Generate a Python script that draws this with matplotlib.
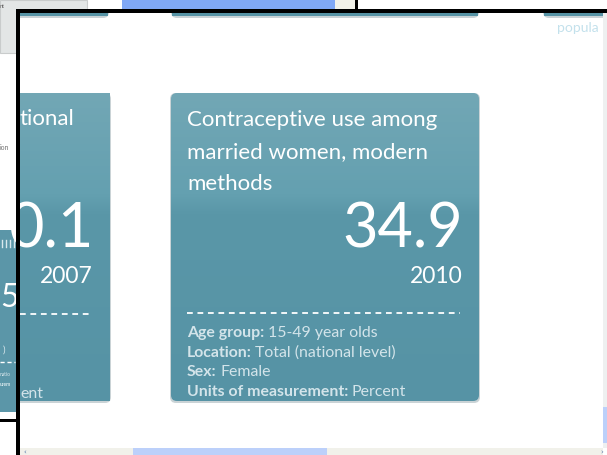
import numpy as np
import matplotlib.pyplot as plt
from matplotlib.patches import FancyBboxPatch, Rectangle
from matplotlib.colors import to_rgb

# card content
left_title = "tional"
left_value = "0.1"
left_year = "2007"
left_tail = "ent"

main_title = ["Contraceptive use among", "married women, modern", "methods"]
main_value = "34.9"
main_year = "2010"
detail_labels = ["Age group:", "Location:", "Sex:", "Units of measurement:"]
detail_values = ["15-49 year olds", "Total (national level)", "Female", "Percent"]

W, H = 607, 455
fig = plt.figure(figsize=(W / 100, H / 100), dpi=100)
ax = fig.add_axes([0, 0, 1, 1])
ax.set_xlim(0, W)
ax.set_ylim(H, 0)
ax.axis("off")
FONT = "Lato"

frame_clip = Rectangle((20, 13), 583, 435, transform=ax.transData)
outer_clip = Rectangle((0, 0), 16, H, transform=ax.transData)


def gradient(stops, n=300):
    # stops: list of (pos, color)
    pos = np.linspace(0, 1, n)
    out = np.zeros((n, 1, 3))
    ps = [p for p, c in stops]
    cs = np.array([to_rgb(c) for p, c in stops])
    for k in range(3):
        out[:, 0, k] = np.interp(pos, ps, cs[:, k])
    return out


CARD = [(0, "#72a7b5"), (0.33, "#64a0b0"), (0.39, "#5a97a8"), (1, "#5693a5")]


def card(x0, y0, x1, y1, clip=None, r=6):
    sh = FancyBboxPatch((x0 - 1, y0), x1 - x0 + 2, y1 - y0 + 2,
                        boxstyle="round,pad=0,rounding_size=%d" % r,
                        fc="#8a9ea4", ec="none", alpha=0.45, zorder=1)
    ax.add_patch(sh)
    box = FancyBboxPatch((x0, y0), x1 - x0, y1 - y0,
                         boxstyle="round,pad=0,rounding_size=%d" % r,
                         fc="none", ec="none", zorder=2)
    ax.add_patch(box)
    im = ax.imshow(gradient(CARD), extent=(x0, x1, y1, y0), origin="upper",
                   aspect="auto", zorder=2, interpolation="bilinear")
    im.set_clip_path(box)
    if clip is not None:
        sh.set_clip_path(clip)
        box.set_clip_path(clip)
    return im


def small(x, y, s, size, color="#d9e8ed", **kw):
    t = ax.text(x, y, s, fontsize=size, color=color, va="center", family=FONT, **kw)
    t.set_clip_path(outer_clip)
    return t


# background outside the frame
ax.add_patch(Rectangle((0, 0), W, H, fc="white", ec="none", zorder=0))
ax.add_patch(Rectangle((0, 0), 87, 53, fc="#e3e6e6", ec="#c9cccc", lw=0.8, zorder=0.5))
small(0, 6, "nt", 4, color="#666666")
ax.add_patch(Rectangle((122, 0), 213, 9, fc="#80a8f6", ec="none", zorder=0.5))
ax.add_patch(Rectangle((335, 0), 20, 9, fc="#f1f1e9", ec="none", zorder=0.5))
ax.add_patch(Rectangle((355, 0), 3, 9, fc="black", ec="none", zorder=0.5))
small(0, 147, "ion", 5, color="#777777")
ax.add_patch(Rectangle((0, 230), 16, 182, fc="#5b96a8", ec="none", zorder=0.5))
for gx in (2, 6, 10, 14):
    ax.plot([gx, gx], [240, 247], color="#d9e8ed", lw=1, zorder=3)
small(0, 298, "5", 23, color="white")
small(3, 350, ")", 7)
dl, = ax.plot([0, 15], [362, 362], color="white", lw=1, ls=(0, (3, 2)), zorder=3)
dl.set_clip_path(outer_clip)
small(0, 374, "natio", 3.5)
small(0, 384, "urem", 3.5, weight="bold")
ax.add_patch(Rectangle((0, 419), 16, 3, fc="black", ec="none", zorder=0.5))

# frame interior
inner = Rectangle((20, 13), 583, 435, fc="white", ec="none", zorder=0.8)
ax.add_patch(inner)

# bottoms of the cards in the row above
for a, b in [(-30, 108), (172, 478), (544, 640)]:
    card(a, -120, b, 16, clip=frame_clip).set_clip_path(frame_clip)

ax.text(557, 28, "popula", fontsize=10, color="#c3e1ec", va="center", family=FONT,
        clip_path=frame_clip)

# left card (cut by frame)
card(-200, 93, 110, 401, clip=frame_clip).set_clip_path(frame_clip)
t = ax.text(20, 125, left_title, fontsize=16, color="white", family=FONT, zorder=4)
t.set_clip_path(frame_clip)
t = ax.text(93, 248, left_value, fontsize=44, color="white", ha="right", family=FONT, zorder=4)
t.set_clip_path(frame_clip)
ax.text(93, 283, left_year, fontsize=16.5, color="white", ha="right", family=FONT, zorder=4)
ln, = ax.plot([-10, 90], [314, 314], color="white", lw=1.3, ls=(0, (3.2, 2.6)), zorder=3)
ln.set_clip_path(frame_clip)
t = ax.text(20, 398, left_tail, fontsize=11.4, color="#d3e4ea", family=FONT, zorder=4)
t.set_clip_path(frame_clip)

# main card
card(171, 93, 479, 401)
for i, line in enumerate(main_title):
    ax.text(187, 126 + 32 * i, line, fontsize=16, color="white", family=FONT, zorder=4)
ax.text(463, 247, main_value, fontsize=44, color="white", ha="right", family=FONT, zorder=4)
ax.text(463, 283, main_year, fontsize=16.5, color="white", ha="right", family=FONT, zorder=4)
ax.plot([187, 460], [313, 313], color="white", lw=1.3, ls=(0, (3.2, 2.6)), zorder=4)

fig.canvas.draw()
rend = fig.canvas.get_renderer()
inv = ax.transData.inverted()
for i, (lab, val) in enumerate(zip(detail_labels, detail_values)):
    y = 337 + 19.6 * i
    tl = ax.text(187, y, lab, fontsize=11.4, color="#d3e4ea", weight="bold",
                 family=FONT, zorder=4)
    bb = tl.get_window_extent(rend)
    xr = inv.transform((bb.x1, bb.y0))[0]
    ax.text(xr + 3.5, y, val, fontsize=11.4, color="#d3e4ea", family=FONT, zorder=4)

# black frame
ax.add_patch(Rectangle((16, 9), W - 16, 4, fc="black", ec="none", zorder=6))
ax.add_patch(Rectangle((16, 9), 4, H - 9, fc="black", ec="none", zorder=6))

# scrollbars
ax.add_patch(Rectangle((603, 13), 4, 435, fc="#eef0f0", ec="none", zorder=6))
ax.add_patch(Rectangle((603, 407), 4, 36, fc="#bcd0fa", ec="none", zorder=6))
ax.add_patch(Rectangle((20, 448), 583, 7, fc="#f1f1ea", ec="none", zorder=6))
ax.add_patch(Rectangle((133, 448), 194, 7, fc="#bcd0fa", ec="none", zorder=6))
ax.text(24, 452, "‹", fontsize=5, color="#5577aa", va="center", zorder=7)
ax.text(600, 452, "›", fontsize=5, color="#5577aa", va="center", zorder=7)

ax.set_xlim(0, W)
ax.set_ylim(H, 0)
fig.savefig("out.png", dpi=100)
